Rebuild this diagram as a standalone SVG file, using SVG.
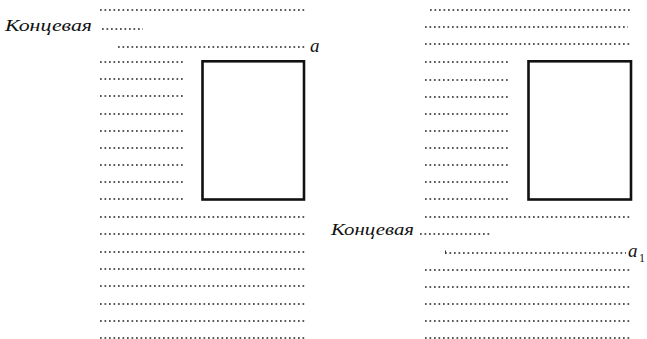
<svg xmlns="http://www.w3.org/2000/svg" width="647" height="339" viewBox="0 0 647 339">
<style>
.d{stroke:#222;stroke-width:1.7;stroke-dasharray:1.7 2.8;fill:none}
.box{fill:none;stroke:#111;stroke-width:2.6}
.lbl{font-family:"Liberation Serif","DejaVu Serif",serif;font-style:italic;font-size:17px;fill:#111}
.var{font-family:"Liberation Serif","DejaVu Serif",serif;font-style:italic;font-size:19px;fill:#111}
.sub{font-family:"Liberation Serif","DejaVu Serif",serif;font-size:12px;fill:#111}
</style>
<rect width="647" height="339" fill="#fff"/>
<g id="left-panel">
<g id="left-box"><rect class="box" x="202.5" y="61.3" width="101.5" height="138.2"/></g>
<g id="left-labels">
<text class="lbl" x="5" y="31" textLength="87" lengthAdjust="spacingAndGlyphs">Концевая</text>
<text class="var" x="310" y="52">a</text>
</g>
<g id="left-lines">
<path class="d" d="M100 10H305M102 29H143M118 47H305"/>
<path class="d" d="M100 62H185M100 79H185M100 96H185M100 114H185M100 131H185M100 148H185M100 165H185M100 182H185M100 199H185"/>
<path class="d" d="M100 217H305M100 234H305M100 252H305M100 269H305M100 286H305M100 304H305M100 321H305M100 338H305"/>
</g>
</g>
<g id="right-panel">
<g id="right-box"><rect class="box" x="528.5" y="61.3" width="102.5" height="138.2"/></g>
<g id="right-labels">
<text class="lbl" x="331" y="235" textLength="83" lengthAdjust="spacingAndGlyphs">Концевая</text>
<text class="var" x="628" y="257">a</text>
<text class="sub" x="639" y="262">1</text>
</g>
<g id="right-lines">
<path class="d" d="M430 10H632M425 27H628M425 44H632"/>
<path class="d" d="M425 62H510M425 80H510M425 97H510M425 114H510M425 131H510M425 148H510M425 165H510M425 182H510M425 199H510"/>
<path class="d" d="M425 217H632M420 234H490M445 253H626"/>
<path d="M445.5 250.5V254" stroke="#333" stroke-width="1"/>
<path class="d" d="M425 270H630M425 287H630M425 304H630M425 321H630M425 338H630"/>
</g>
</g>
</svg>
